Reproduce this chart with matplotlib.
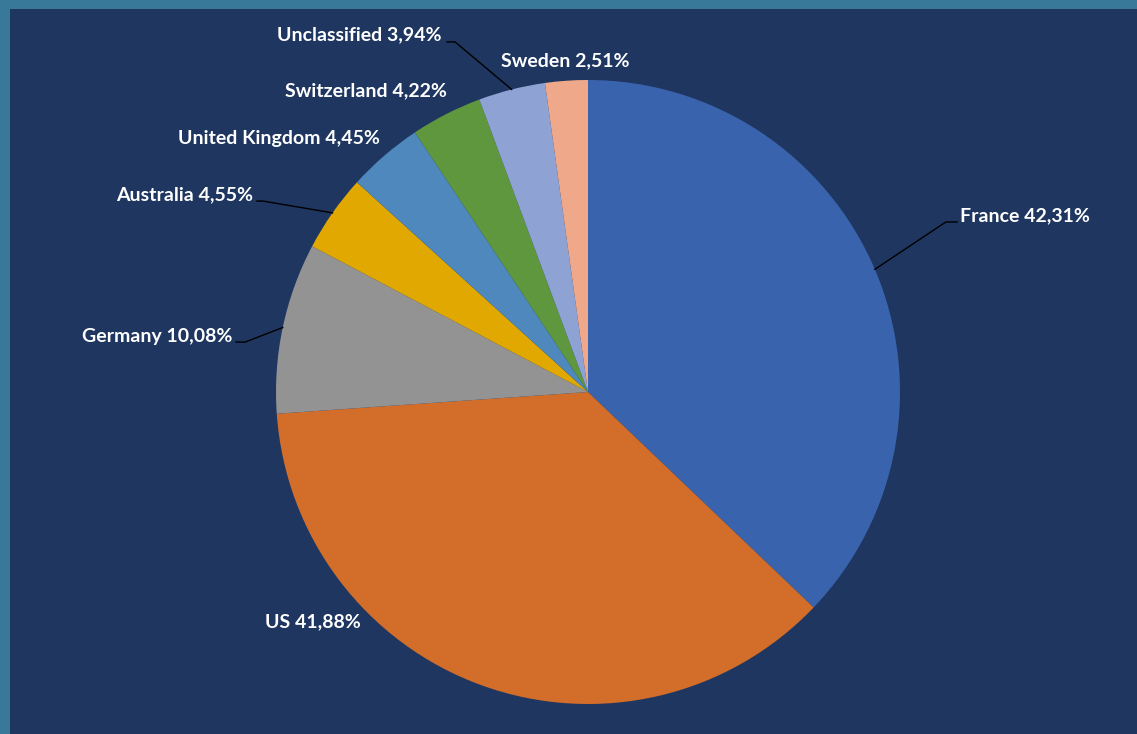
import numpy as np
import matplotlib.pyplot as plt
from matplotlib.patches import Rectangle

countries = ["France", "US", "Germany", "Australia", "United Kingdom",
             "Switzerland", "Unclassified", "Sweden"]
shares = [42.31, 41.88, 10.08, 4.55, 4.45, 4.22, 3.94, 2.51]
colors = ["#3a63ad", "#d26d2a", "#939393", "#e0a800", "#4e88bd",
          "#5f973e", "#8fa2d4", "#f0a88a"]

# label placement (data units, radius = 1)
label_pos = [(1.192, 0.564, "left"), (-0.881, -0.737, "center"),
             (-1.141, 0.179, "right"), (-1.074, 0.631, "right"),
             (-0.667, 0.814, "right"), (-0.452, 0.965, "right"),
             (-0.468, 1.144, "right"), (-0.074, 1.061, "center")]
# leader lines: elbow point, end point (None = no line)
leaders = [((1.147, 0.545), (1.183, 0.545)), None,
           ((-1.099, 0.160), (-1.128, 0.160)),
           ((-1.042, 0.612), (-1.061, 0.612)), None, None,
           ((-0.426, 1.122), (-0.452, 1.122)), None]

W, H = 1137, 734
cx, cy, R = 588, 392, 312
fig = plt.figure(figsize=(W / 100, H / 100), dpi=100)
fig.patch.set_facecolor("#38799a")
fig.patches.append(Rectangle((10 / W, 0), 1, (H - 9) / H, transform=fig.transFigure,
                             facecolor="#1e3660", edgecolor="none", zorder=-1))

ax = fig.add_axes([0, 0, 1, 1])
wedges, _ = ax.pie(shares, colors=colors, startangle=90, counterclock=False,
                   radius=1, wedgeprops=dict(linewidth=0))
ax.set_xlim(-cx / R, (W - cx) / R)
ax.set_ylim(-(H - cy) / R, cy / R)
ax.set_aspect("auto")
ax.axis("off")

for i, w in enumerate(wedges):
    x, y, ha = label_pos[i]
    txt = f"{countries[i]} {shares[i]:.2f}%".replace(".", ",")
    ax.text(x, y, txt, ha=ha, va="center", color="white", fontsize=14,
            fontweight="bold", family="Lato")
    if leaders[i] is not None:
        th = np.deg2rad((w.theta1 + w.theta2) / 2)
        (ex, ey), (tx, ty) = leaders[i]
        ax.plot([np.cos(th), ex, tx], [np.sin(th), ey, ty], color="black", lw=1)

plt.savefig("out.png", dpi=100, facecolor=fig.get_facecolor())
